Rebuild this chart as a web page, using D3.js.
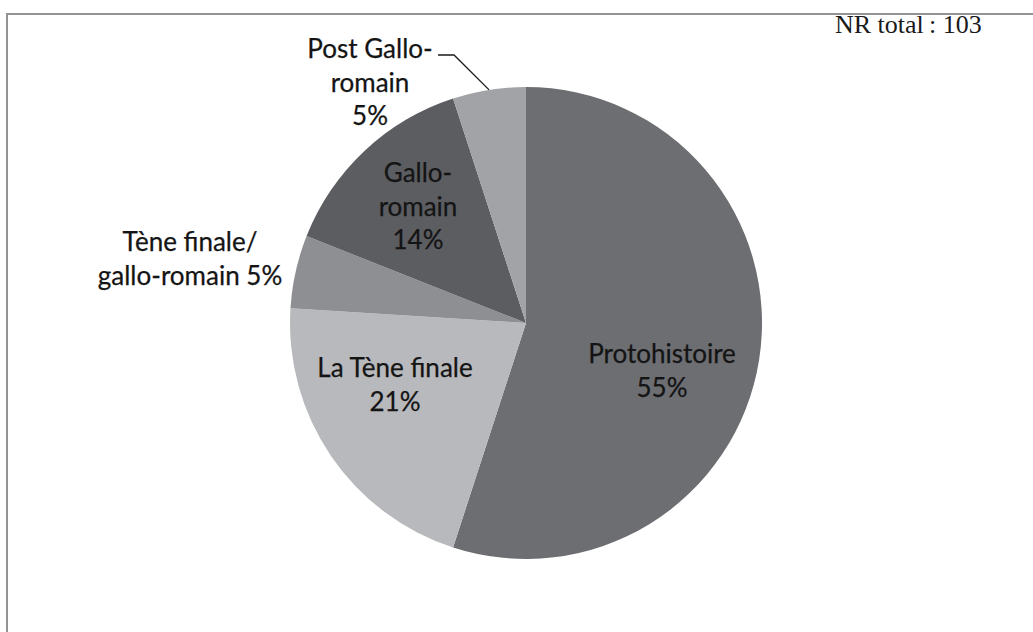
<!DOCTYPE html>
<html>
<head>
<meta charset="utf-8">
<script src="https://cdn.jsdelivr.net/npm/d3@7"></script>
<style>
  body { margin: 0; background: #fff; }
  svg { display: block; }
</style>
</head>
<body>
<script>
// periods and share of the remains (NR total 103)
var categories = ['Protohistoire', 'La Tène finale', 'Tène finale/gallo-romain', 'Gallo-romain', 'Post Gallo-romain'];
var values = [55, 21, 5, 14, 5];
var labelLines = [
  ['Protohistoire', '55%'],
  ['La Tène finale', '21%'],
  ['Tène finale/', 'gallo-romain 5%'],
  ['Gallo-', 'romain', '14%'],
  ['Post Gallo-', 'romain', '5%']
];
var colors = ['#6d6e72', '#b8b9bc', '#8e8f93', '#5c5d61', '#a2a3a7'];

var width = 1033, height = 632;
var cx = 526, cy = 323, radius = 236;
var lineGap = 33.5;

// where each label block sits, relative to the pie centre (x centre, first baseline)
var labelOffsets = [[136, 40], [-131, 54], [-336, -72], [-108, -141], [-156, -265]];

var svg = d3.select('body').append('svg')
            .attr('width', width)
            .attr('height', height);

// frame: top and left rules only
svg.append('line')
   .attr('x1', 6).attr('y1', 14).attr('x2', width).attr('y2', 14)
   .attr('stroke', '#939396').attr('stroke-width', 2);
svg.append('line')
   .attr('x1', 7).attr('y1', 13).attr('x2', 7).attr('y2', height)
   .attr('stroke', '#939396').attr('stroke-width', 2);

svg.append('text')
   .attr('x', 835).attr('y', 33)
   .attr('font-family', '"Liberation Serif", "Times New Roman", serif')
   .attr('font-size', 26)
   .attr('fill', '#1a1a1a')
   .text('NR total\u2009: 103');

var pie = d3.pie().sort(null).value(function(d) { return d; });
var arc = d3.arc().innerRadius(0).outerRadius(radius);
var arcs = pie(values);

var g = svg.append('g').attr('transform', 'translate(' + cx + ',' + cy + ')');

g.selectAll('path')
 .data(arcs)
 .enter().append('path')
 .attr('d', arc)
 .attr('fill', function(d, i) { return colors[i]; });

// leader line for the small outside slice
var post = arcs[4];
var mid = (post.startAngle + post.endAngle) / 2;
var edge = [Math.sin(mid) * radius, -Math.cos(mid) * radius];
g.append('polyline')
 .attr('points', [[-88, -268], [-72, -268], edge].map(function(p) { return p.join(','); }).join(' '))
 .attr('fill', 'none')
 .attr('stroke', '#1a1a1a')
 .attr('stroke-width', 1.3);

var labels = g.selectAll('text.lbl')
  .data(arcs)
  .enter().append('text')
  .attr('class', 'lbl')
  .attr('text-anchor', 'middle')
  .attr('font-family', 'Lato, "Open Sans", sans-serif')
  .attr('font-size', 26)
  .attr('fill', '#141414')
  .attr('stroke', '#141414')
  .attr('stroke-width', 0.25)
  .attr('transform', function(d, i) {
    return 'translate(' + labelOffsets[i][0] + ',' + labelOffsets[i][1] + ')';
  });

labels.each(function(d, i) {
  var t = d3.select(this);
  labelLines[i].forEach(function(s, j) {
    t.append('tspan').attr('x', 0).attr('y', j * lineGap).text(s);
  });
});
</script>
</body>
</html>
